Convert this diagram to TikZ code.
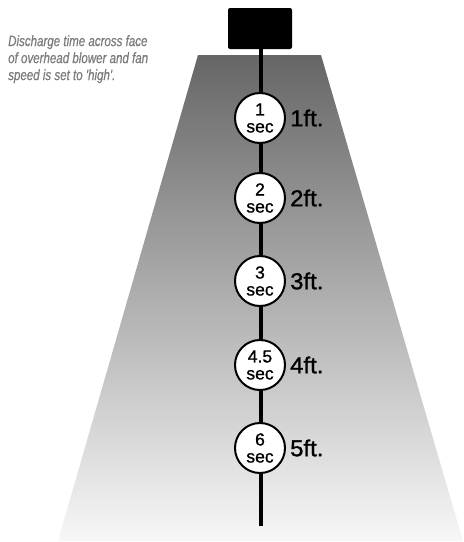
\documentclass[tikz,border=0pt]{standalone}
\usepackage{fontspec}
\setmainfont{Liberation Sans}
\newfontfamily\notefont{Liberation Sans}[FakeStretch=0.77, FakeBold=0.6]
\newfontfamily\timefont{Liberation Sans}[FakeBold=1]
\newfontfamily\distfont{Liberation Sans}[FakeStretch=1.04, FakeBold=1.2]
\usepackage{tikz}
\usetikzlibrary{positioning, calc}
\definecolor{notegray}{HTML}{7C7C7C}
\tikzset{
x=1pt, y=-1pt,
blower/.style={%
    rectangle,
    minimum width=64pt,
    minimum height=41pt,
    rounded corners=2pt,
    fill=black, draw=none
},
stem/.style={line width=4pt, black},
timer/.style={%
    circle,
    minimum size=50pt,
    inner sep=0pt,
    fill=white,
    draw=black,
    line width=2pt,
    align=center,
    font=\timefont\fontsize{17.5}{17}\selectfont
},
dist/.style={%
    inner sep=1pt,
    font=\distfont\fontsize{23}{23}\selectfont
},
}

\begin{document}
\begin{tikzpicture}[label distance=3pt]
	\useasboundingbox (0,0) rectangle (464,542);
	% air stream below the blower
	\shade[top color=black!60, bottom color=black!3]
		(198,55) -- (321,55) -- (463,541) -- (58,541) -- cycle;
	\node[blower] (blower) at (260,28.5) {};
	\coordinate (tail) at (261,526);
	\draw[stem] (blower.south -| tail) -- (tail);

	\node[timer, label={[dist]right:1ft.}] (t1) at (260,118) {1\\sec};
	\node[timer, label={[dist]right:2ft.}] (t2) at (260,198) {2\\sec};
	\node[timer, label={[dist]right:3ft.}] (t3) at (260,281) {3\\sec};
	\node[timer, label={[dist]right:4ft.}] (t4) at (260,365) {4.5\\sec};
	\node[timer, label={[dist]right:5ft.}] (t5) at (260,448) {6\\sec};

	\node[anchor=north west, align=left, inner sep=0pt, text=notegray,
		font=\notefont\itshape\fontsize{15}{17}\selectfont] (note) at (8,35)
		{Discharge time across face\\of overhead blower and fan\\speed is set to 'high'.};
\end{tikzpicture}
\end{document}
